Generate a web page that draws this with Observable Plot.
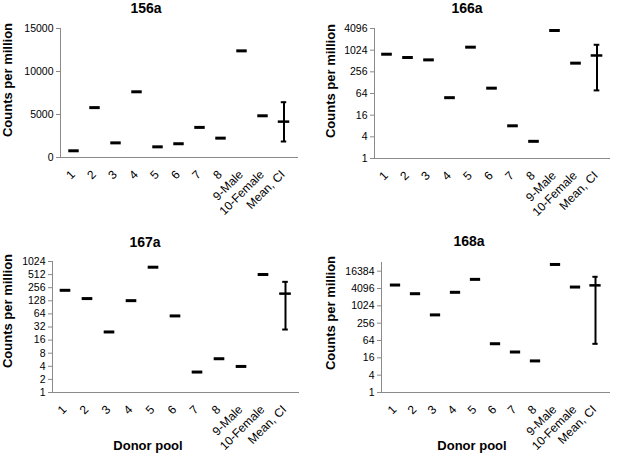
<!DOCTYPE html>
<html>
<head>
<meta charset="utf-8">
<script src="https://cdn.jsdelivr.net/npm/d3@7"></script>
<script src="https://cdn.jsdelivr.net/npm/@observablehq/plot@0.6"></script>
<style>
  html, body { margin: 0; padding: 0; background: #fff; }
  #wrap { position: relative; width: 623px; height: 454px; font-family: "Liberation Sans", Arial, sans-serif; }
  .panel { position: absolute; }
  .title { position: absolute; font-weight: bold; font-size: 14px; line-height: 14px; transform: translateX(-50%); white-space: nowrap; }
  .ylab { position: absolute; font-weight: bold; font-size: 13px; line-height: 13px; white-space: nowrap; transform: translate(-50%, -50%) rotate(-90deg); }
  .xlab { position: absolute; font-weight: bold; font-size: 13px; line-height: 13px; white-space: nowrap; transform: translateX(-50%); }
</style>
</head>
<body>
<div id="wrap"></div>
<script>
const categories = ["1", "2", "3", "4", "5", "6", "7", "8", "9-Male", "10-Female", "Mean, CI"];
const donors = categories.slice(0, 10);
const meanCategory = "Mean, CI";

const titles = ["156a", "166a", "167a", "168a"];

const values156 = [780, 5800, 1700, 7640, 1240, 1600, 3500, 2250, 12400, 4850];
const ci156 = {mean: 4170, low: 1860, high: 6430};
const ticks156 = [0, 5000, 10000, 15000];

const values166 = [790, 640, 550, 49, 1240, 90, 8.1, 3.0, 3610, 446];
const ci166 = {mean: 729, low: 78, high: 1446};
const ticks166 = [1, 4, 16, 64, 256, 1024, 4096];

const values167 = [223, 144, 24.6, 129, 757, 57.5, 2.95, 5.97, 3.97, 514];
const ci167 = {mean: 187, low: 28, high: 349};
const ticks167 = [1, 2, 4, 8, 16, 32, 64, 128, 256, 512, 1024];

const values168 = [5400, 2700, 496, 3020, 8500, 49.4, 25.5, 12.5, 28000, 4600];
const ci168 = {mean: 5270, low: 49, high: 10450};
const ticks168 = [1, 4, 16, 64, 256, 1024, 4096, 16384];

const axisGrey = "#8a8a8a";

function panel({values, ci, ticks, type, domain, left, top, width, height, margins}) {
  const rows = donors.map((d, i) => ({cat: d, v: values[i]}));
  const meanRow = [{cat: meanCategory, mean: ci.mean, low: ci.low, high: ci.high}];
  const bw = (width - margins.left - margins.right) / categories.length;
  const barInset = (bw - 11) / 2;
  const meanInset = (bw - 12) / 2;
  const capInset = (bw - 6) / 2;
  const plot = Plot.plot({
    width, height,
    marginLeft: margins.left, marginRight: margins.right,
    marginTop: margins.top, marginBottom: margins.bottom,
    style: {fontFamily: "'Liberation Sans', Arial, sans-serif", background: "white", color: "black"},
    x: {type: "band", domain: categories, padding: 0, axis: null},
    y: {type, domain, base: type === "log" ? 2 : undefined, axis: null},
    marks: [
      Plot.frame({anchor: "left", stroke: axisGrey, strokeWidth: 1}),
      Plot.frame({anchor: "bottom", stroke: axisGrey, strokeWidth: 1}),
      Plot.axisY(ticks, {tickSize: 4, tickPadding: 3, stroke: axisGrey, fontSize: 10.5, tickFormat: d => String(d), label: null}),
      Plot.axisX({tickSize: 0, tickPadding: 15, dx: -1, tickRotate: -45, fontSize: 12, label: null}),
      Plot.tickY(rows, {x: "cat", y: "v", stroke: "black", strokeWidth: 3, insetLeft: barInset, insetRight: barInset}),
      Plot.ruleX(meanRow, {x: "cat", y1: "low", y2: "high", stroke: "black", strokeWidth: 2}),
      Plot.tickY(meanRow, {x: "cat", y: "mean", stroke: "black", strokeWidth: 2.5, insetLeft: meanInset, insetRight: meanInset}),
      Plot.tickY(meanRow, {x: "cat", y: "low", stroke: "black", strokeWidth: 2, insetLeft: capInset, insetRight: capInset}),
      Plot.tickY(meanRow, {x: "cat", y: "high", stroke: "black", strokeWidth: 2, insetLeft: capInset, insetRight: capInset})
    ]
  });
  const div = document.createElement("div");
  div.className = "panel";
  div.style.left = left + "px";
  div.style.top = top + "px";
  div.appendChild(plot);
  document.getElementById("wrap").appendChild(div);
}

panel({values: values156, ci: ci156, ticks: ticks156, type: "linear", domain: [0, 15000],
  left: 0, top: 0, width: 311, height: 227, margins: {left: 60, right: 14, top: 28, bottom: 70}});
panel({values: values166, ci: ci166, ticks: ticks166, type: "log", domain: [1, 4096],
  left: 311, top: 0, width: 312, height: 227, margins: {left: 63, right: 14, top: 28, bottom: 69}});
panel({values: values167, ci: ci167, ticks: ticks167, type: "log", domain: [1, 1024],
  left: 0, top: 227, width: 311, height: 227, margins: {left: 52, right: 13, top: 34, bottom: 62}});
panel({values: values168, ci: ci168, ticks: ticks168, type: "log", domain: [1, 32768],
  left: 311, top: 227, width: 312, height: 227, margins: {left: 70, right: 14, top: 35, bottom: 62}});

const wrap = document.getElementById("wrap");
function addText(cls, text, x, y) {
  const el = document.createElement("div");
  el.className = cls;
  el.textContent = text;
  el.style.left = x + "px";
  el.style.top = y + "px";
  wrap.appendChild(el);
}
addText("title", titles[0], 146, 1);
addText("title", titles[1], 467, 1);
addText("title", titles[2], 145, 235);
addText("title", titles[3], 469, 234);
addText("ylab", "Counts per million", 7, 80);
addText("ylab", "Counts per million", 330, 81);
addText("ylab", "Counts per million", 7, 311);
addText("ylab", "Counts per million", 330, 313);
addText("xlab", "Donor pool", 148, 439);
addText("xlab", "Donor pool", 472, 439);
</script>
</body>
</html>
